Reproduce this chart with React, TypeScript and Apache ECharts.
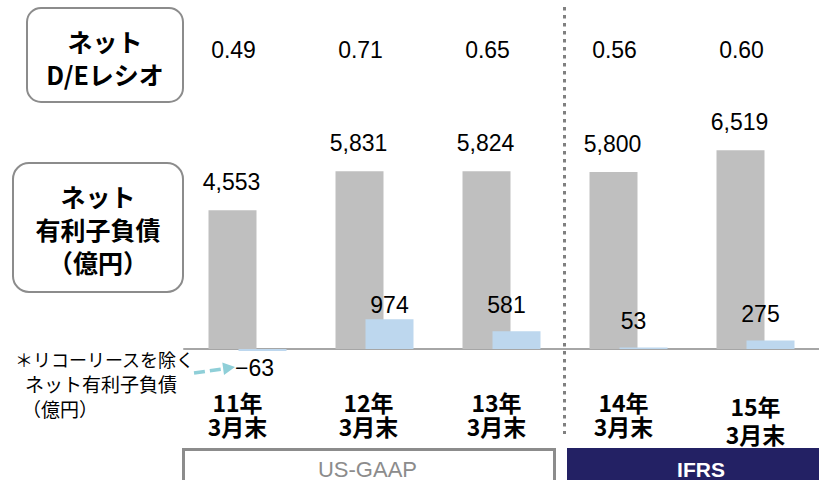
import React, { useEffect, useRef } from "react";
import * as echarts from "echarts";

const categories = ["11年\n3月末", "12年\n3月末", "13年\n3月末", "14年\n3月末", "15年\n3月末"];
const netDebt = [4553, 5831, 5824, 5800, 6519];
const netDebtExLease = [-63, 974, 581, 53, 275];
const deRatio = [0.49, 0.71, 0.65, 0.56, 0.6];
const rowLabel = ["D/E"];
const categoryShift = [10, 6, 5, 5, 0];
const categoryDrop = [0, 0, 0, 0, 4];

const JP = '"Noto Sans CJK JP", "Noto Sans", sans-serif';
const NUM = '"Liberation Sans", Arial, sans-serif';

export default function App() {
  const ref = useRef<HTMLDivElement>(null);
  useEffect(() => {
    if (!ref.current) return;
    const chart = echarts.init(ref.current, null, { renderer: "svg" });
    const fmt = (v: number) => (v < 0 ? "−" + Math.abs(v).toLocaleString("en-US") : v.toLocaleString("en-US"));
    const base = {
      fontSize: 23,
      lineHeight: 24,
      fontWeight: "bold",
      color: "#000",
      fontFamily: JP,
    };
    const rich: any = {};
    categories.forEach((_, i) => {
      rich["a" + i] = { ...base, lineHeight: 24 + categoryDrop[i] * 2, padding: [0, categoryShift[i] * 2, 0, 0] };
      rich["b" + i] = { ...base, padding: [0, categoryShift[i] * 2, 0, 0] };
    });
    const option: any = {
      animation: false,
      backgroundColor: "#fff",
      grid: [
        { left: 184, width: 635, top: 30, height: 40 },
        { left: 184, width: 635, top: 135.5, height: 244 },
      ],
      xAxis: [
        { gridIndex: 0, type: "category", data: categories, show: false },
        {
          gridIndex: 1,
          type: "category",
          data: categories,
          axisLine: { onZero: true, lineStyle: { color: "#a6a6a6", width: 2 } },
          axisTick: { show: false },
          axisLabel: {
            interval: 0,
            margin: 10,
            ...base,
            rich,
            formatter: (value: string, index: number) => {
              const [l1, l2] = value.split("\n");
              return `{a${index}|${l1}}\n{b${index}|${l2}}`;
            },
          },
        },
      ],
      yAxis: [
        { gridIndex: 0, type: "category", data: rowLabel, show: false },
        { gridIndex: 1, type: "value", min: -1000, max: 7000, show: false, splitLine: { show: false } },
      ],
      series: [
        {
          type: "scatter",
          xAxisIndex: 0,
          yAxisIndex: 0,
          symbolSize: 0,
          itemStyle: { opacity: 1 },
          data: deRatio.map((r, i) => [i, 0, r]),
          label: {
            show: true,
            position: "inside",
            offset: [-14, 0],
            formatter: (p: any) => p.value[2].toFixed(2),
            fontSize: 23,
            color: "#000",
            opacity: 1,
            fontFamily: NUM,
          },
        },
        {
          type: "bar",
          xAxisIndex: 1,
          yAxisIndex: 1,
          data: netDebt,
          barWidth: 48,
          barGap: "-37.5%",
          itemStyle: { color: "#bfbfbf" },
          label: {
            show: true,
            position: "top",
            distance: 17,
            offset: [-1, 0],
            formatter: (p: any) => fmt(p.value),
            fontSize: 23,
            color: "#000",
            fontFamily: NUM,
          },
        },
        {
          type: "bar",
          xAxisIndex: 1,
          yAxisIndex: 1,
          barWidth: 48,
          barGap: "-37.5%",
          itemStyle: { color: "#bdd7ee" },
          data: netDebtExLease.map((v, i) => {
            if (v < 0) return { value: v, label: { position: "bottom", distance: 6, offset: [-8, 0] } };
            if (i === 1) return { value: v, label: { distance: 3, offset: [0, 0] } };
            return v;
          }),
          label: {
            show: true,
            position: "top",
            distance: 15,
            offset: [-10, 0],
            formatter: (p: any) => fmt(p.value),
            fontSize: 23,
            color: "#000",
            fontFamily: NUM,
          },
        },
      ],
      graphic: [
        {
          type: "rect",
          shape: { x: 27, y: 8, width: 156, height: 94, r: 14 },
          style: { fill: "#fff", stroke: "#8c8c8c", lineWidth: 2 },
        },
        {
          type: "text",
          x: 105,
          y: 57.5,
          style: {
            text: "ネット\nD/Eレシオ",
            align: "center",
            verticalAlign: "middle",
            fontSize: 25,
            lineHeight: 33,
            fontWeight: "bold",
            fontFamily: JP,
            fill: "#000",
          },
        },
        {
          type: "rect",
          shape: { x: 13, y: 163, width: 170, height: 129, r: 16 },
          style: { fill: "#fff", stroke: "#8c8c8c", lineWidth: 2 },
        },
        {
          type: "text",
          x: 98,
          y: 229,
          style: {
            text: "ネット\n有利子負債\n（億円）",
            align: "center",
            verticalAlign: "middle",
            fontSize: 25,
            lineHeight: 33,
            fontWeight: "bold",
            fontFamily: JP,
            fill: "#000",
          },
        },
        {
          type: "line",
          shape: { x1: 564.5, y1: 7, x2: 564.5, y2: 434 },
          style: { stroke: "#808080", lineWidth: 3, lineDash: [3.5, 4.5] },
        },
        {
          type: "text",
          x: 15,
          y: 358.5,
          style: { text: "＊リコーリースを除く", verticalAlign: "middle", fontSize: 18, fontFamily: JP, fill: "#000" },
        },
        {
          type: "text",
          x: 25,
          y: 383,
          style: { text: "ネット有利子負債", verticalAlign: "middle", fontSize: 19, fontFamily: JP, fill: "#000" },
        },
        {
          type: "text",
          x: 22,
          y: 408,
          style: { text: "（億円）", verticalAlign: "middle", fontSize: 19, fontFamily: JP, fill: "#000" },
        },
        {
          type: "line",
          shape: { x1: 194, y1: 373, x2: 223, y2: 368.9 },
          style: { stroke: "#8fcfd8", lineWidth: 3.5, lineDash: [11, 5] },
        },
        {
          type: "polygon",
          shape: { points: [[235, 367], [222.3, 362.5], [224, 375]] },
          style: { fill: "#8fcfd8" },
        },
        {
          type: "rect",
          shape: { x: 183.5, y: 449.5, width: 371, height: 40 },
          style: { fill: "#fff", stroke: "#8c8c8c", lineWidth: 3 },
        },
        {
          type: "text",
          x: 367.5,
          y: 469,
          style: {
            text: "US-GAAP",
            align: "center",
            verticalAlign: "middle",
            fontSize: 22,
            fontFamily: NUM,
            fill: "#8c8c8c",
          },
        },
        {
          type: "rect",
          shape: { x: 567, y: 448, width: 252, height: 40 },
          style: { fill: "#232164" },
        },
        {
          type: "text",
          x: 701,
          y: 469,
          style: {
            text: "IFRS",
            align: "center",
            verticalAlign: "middle",
            fontSize: 21,
            fontWeight: "bold",
            fontFamily: NUM,
            fill: "#fff",
          },
        },
      ],
    };
    chart.setOption(option);
    return () => chart.dispose();
  }, []);
  return (
    <div
      ref={ref}
      style={{ position: "fixed", left: 0, top: 0, width: 819, height: 480, background: "#fff" }}
    />
  );
}
